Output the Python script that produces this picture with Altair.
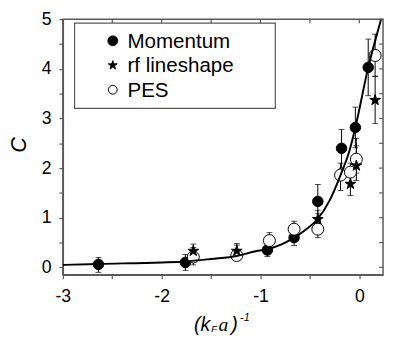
import altair as alt
import pandas as pd

# ---- data ----
mom_x  = [-2.64, -1.76, -0.93, -0.66, -0.42, -0.18, -0.04, 0.09]
mom_y  = [0.06, 0.10, 0.35, 0.60, 1.33, 2.40, 2.82, 4.03]
mom_lo = [-0.10, -0.06, 0.22, 0.44, 1.08, 2.00, 2.41, 3.46]
mom_hi = [0.20, 0.26, 0.47, 0.80, 1.67, 2.78, 3.23, 4.60]

rf_x  = [-1.68, -1.24, -0.42, -0.09, -0.03, 0.16]
rf_y  = [0.33, 0.33, 0.97, 1.68, 2.05, 3.37]
rf_lo = [0.18, 0.18, 0.80, 1.45, 1.75, 2.90]
rf_hi = [0.47, 0.48, 1.15, 1.95, 2.45, 3.85]

pes_x  = [-1.68, -1.24, -0.91, -0.66, -0.42, -0.19, -0.09, -0.03, 0.16]
pes_y  = [0.21, 0.24, 0.54, 0.77, 0.77, 1.86, 1.92, 2.18, 4.27]
pes_lo = [0.05, 0.14, 0.40, 0.60, 0.60, 1.55, 1.70, 1.90, 3.85]
pes_hi = [0.40, 0.45, 0.70, 0.93, 0.95, 2.10, 2.10, 2.60, 4.70]

curve_x = [-3.0, -2.64, -2.0, -1.76, -1.5, -1.24, -1.06, -0.93, -0.78, -0.66,
           -0.55, -0.42, -0.30, -0.19, -0.10, -0.04, 0.09, 0.22, 0.26]
curve_y = [0.05, 0.07, 0.10, 0.12, 0.17, 0.23, 0.32, 0.37, 0.47, 0.60,
           0.75, 0.98, 1.35, 1.86, 2.35, 2.82, 4.03, 5.00, 5.30]

series = ["Momentum", "rf lineshape", "PES"]
x_ticks = [-3, -2.5, -2, -1.5, -1, -0.5, 0]
y_ticks = [0, 0.5, 1, 1.5, 2, 2.5, 3, 3.5, 4, 4.5, 5]

# ---- tables ----
rows = []
for name, xs, ys, los, his in [("Momentum", mom_x, mom_y, mom_lo, mom_hi),
                               ("PES", pes_x, pes_y, pes_lo, pes_hi),
                               ("rf lineshape", rf_x, rf_y, rf_lo, rf_hi)]:
    for a, b, c, d in zip(xs, ys, los, his):
        rows.append({"series": name, "x": a, "y": b, "lo": c, "hi": d})
pts = pd.DataFrame(rows)
curve = pd.DataFrame({"x": curve_x, "y": curve_y})
xt = pd.DataFrame({"x": x_ticks})
yt = pd.DataFrame({"y": y_ticks})
one = pd.DataFrame({"a": [0]})

W, H = 327, 261
GRAY = "#5a5a5a"
FONT = "Liberation Sans"

xs_ = alt.Scale(domain=[-3, 0.24], nice=False, zero=False)
ys_ = alt.Scale(domain=[-0.15, 5], nice=False, zero=False)
x_axis = alt.Axis(values=x_ticks, title=None, grid=False,
                  labelExpr="datum.value % 1 === 0 ? '' + datum.value : ''",
                  tickSize=4, labelPadding=9, labelFontSize=18, labelFont=FONT,
                  labelColor="black", domainColor=GRAY, tickColor=GRAY,
                  domainWidth=1.5, tickWidth=1.2, labelFlush=False)
y_axis = alt.Axis(values=y_ticks, title="C", grid=False,
                  labelExpr="datum.value % 1 === 0 ? '' + datum.value : ''",
                  tickSize=4, labelPadding=8, labelFontSize=18, labelFont=FONT,
                  labelColor="black", domainColor=GRAY, tickColor=GRAY,
                  domainWidth=1.5, tickWidth=1.2, labelFlush=False,
                  titleFont=FONT, titleFontSize=22, titleFontStyle="italic",
                  titleFontWeight="normal", titleColor="black",
                  titleX=-45, titleY=128, titleBaseline="middle", titleAngle=-90)

X = lambda f="x": alt.X(f"{f}:Q", scale=xs_, axis=x_axis)
Y = lambda f="y": alt.Y(f"{f}:Q", scale=ys_, axis=y_axis)

star = ("M0,-1L0.2245,-0.309L0.951,-0.309L0.363,0.118L0.588,0.809L0,0.382"
        "L-0.588,0.809L-0.363,0.118L-0.951,-0.309L-0.2245,-0.309Z")
shapes = ["circle", star, "circle"]
fills = ["black", "black", "white"]

bars = alt.Chart(pts).mark_rule(color="black", strokeWidth=1).encode(
    x=X(), y=Y("lo"), y2="hi:Q")
cap_lo = alt.Chart(pts).mark_tick(color="black", thickness=1, size=6,
                                  orient="horizontal").encode(x=X(), y=Y("lo"))
cap_hi = alt.Chart(pts).mark_tick(color="black", thickness=1, size=6,
                                  orient="horizontal").encode(x=X(), y=Y("hi"))

points = alt.Chart(pts).mark_point(filled=False, stroke="black", strokeWidth=1,
                                   opacity=1).encode(
    x=X(), y=Y(),
    shape=alt.Shape("series:N", scale=alt.Scale(domain=series, range=shapes),
                    legend=None),
    fill=alt.Fill("series:N", scale=alt.Scale(domain=series, range=fills),
                  legend=None),
    size=alt.Size("series:N", scale=alt.Scale(domain=series,
                  range=[115, 150, 100]), legend=None),
)

line = alt.Chart(curve).mark_line(color="black", strokeWidth=2,
                                  interpolate="monotone", clip=True).encode(
    x=X(), y=Y())

top_ticks = alt.Chart(xt).mark_rule(color=GRAY, strokeWidth=1.2).encode(
    x=X(), y=alt.value(0), y2=alt.value(4))
right_ticks = alt.Chart(yt).mark_rule(color=GRAY, strokeWidth=1.2).encode(
    y=Y(), x=alt.value(W), x2=alt.value(W - 4))

# ---- legend (boxed, inside the plot) ----
box = alt.Chart(one).mark_rect(fill="white", stroke=GRAY, strokeWidth=1.2).encode(
    x=alt.value(12), x2=alt.value(217), y=alt.value(4), y2=alt.value(91))
leg_layers = [box]
for i, (name, shp, fc, sz) in enumerate(zip(series, shapes, fills, [100, 90, 80])):
    ry = 22 + 25 * i
    leg_layers.append(alt.Chart(one).mark_point(
        shape=shp, fill=fc, filled=False, stroke="black", strokeWidth=1,
        size=sz, opacity=1).encode(x=alt.value(51), y=alt.value(ry)))
    leg_layers.append(alt.Chart(one).mark_text(
        text=name, font=FONT, fontSize=21, align="left", baseline="middle",
        color="black").encode(x=alt.value(66), y=alt.value(ry + 1)))

def txt(s, x, y, size, font=FONT):
    return alt.Chart(one).mark_text(text=s, font=font, fontSize=size,
                                    fontStyle="italic", align="left",
                                    baseline="alphabetic", color="black").encode(
        x=alt.value(x), y=alt.value(y))

TY = H + 57
title = (txt("(k", 134, TY, 20) + txt("F", 151.5, TY + 1.5, 9.5) +
         txt("a", 159, TY, 20, "Liberation Serif") + txt(")", 172, TY, 20) +
         txt("-1", 181, TY - 9.5, 11))

chart = alt.layer(bars, cap_lo, cap_hi, points, line, top_ticks,
                  right_ticks, *leg_layers, title).properties(
    width=W, height=H,
    autosize=alt.AutoSizeParams(type="none"),
    padding={"left": 56, "top": 8, "right": 2, "bottom": 60},
).configure_view(stroke=GRAY, strokeWidth=1.5)

chart.save("out.html", embed_options={"renderer": "svg", "actions": False})
